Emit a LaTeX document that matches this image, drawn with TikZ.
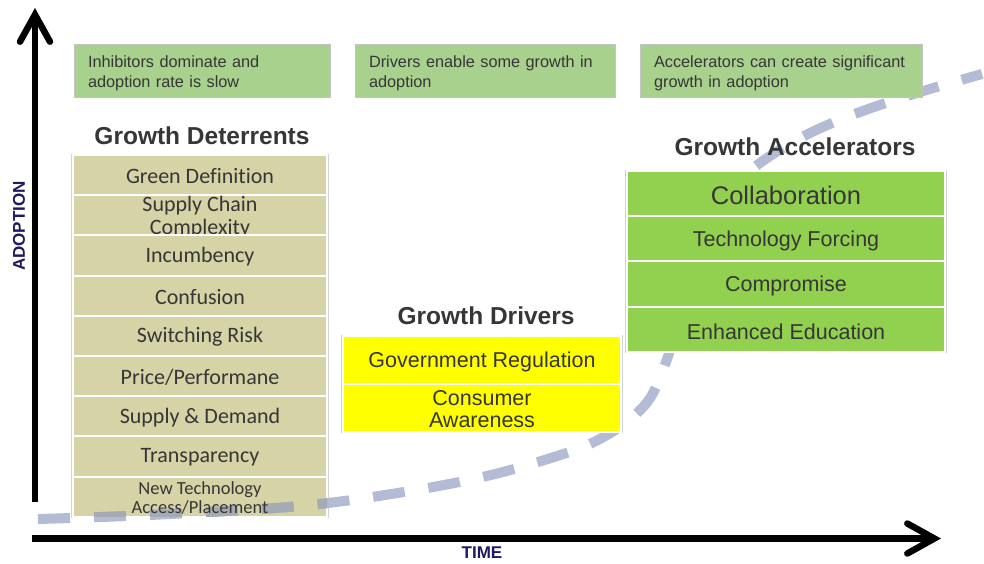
\documentclass[tikz,border=0pt]{standalone}
\usepackage{fontspec}
\setmainfont{Liberation Sans}
\newfontfamily\calfont[Ligatures=NoCommon]{Carlito}
\usetikzlibrary{arrows.meta}

\definecolor{khaki}{HTML}{D6D3A7}
\definecolor{leafgreen}{HTML}{92D050}
\definecolor{palegreen}{HTML}{A9D18E}
\definecolor{yellowcell}{HTML}{FFFF00}
\definecolor{trendblue}{HTML}{B3BCD4}
\definecolor{trendmix}{HTML}{A5ABB2}
\definecolor{inkgrey}{HTML}{363636}
\definecolor{framegrey}{HTML}{D2D2D2}
\definecolor{boxedge}{HTML}{C4C4C4}
\definecolor{axisnavy}{HTML}{1F1A5E}

\tikzset{
  axis/.style={line width=6.5pt, -{Straight Barb[length=27pt,width=30pt,line cap=round,line join=miter]}},
  frame/.style={draw=framegrey, line width=1.2pt, fill=white},
  detcell/.style={draw=white, line width=2pt, fill=khaki, minimum width=254pt, minimum height=40.2pt, inner sep=0pt},
  drvcell/.style={draw=white, line width=2pt, fill=yellowcell, minimum width=278pt, minimum height=48pt, inner sep=0pt},
  acccell/.style={draw=white, line width=2pt, fill=leafgreen, minimum width=318pt, minimum height=45.25pt, inner sep=0pt},
  dettext/.style={text=inkgrey, align=center, font=\calfont\fontsize{22}{23}\selectfont},
  drvtext/.style={text=inkgrey, align=center, font=\fontsize{21.5}{22}\selectfont},
  acctext/.style={text=inkgrey, align=center, font=\fontsize{21.5}{24}\selectfont},
  title/.style={text=inkgrey, font=\bfseries\fontsize{24.5}{27}\selectfont},
  notebox/.style={draw=boxedge, line width=0.8pt, fill=palegreen, minimum height=53pt, inner sep=0pt},
  notetext/.style={inner sep=0pt, align=left, text=inkgrey, font=\fontsize{16.3}{20}\selectfont},
  axislabel/.style={text=axisnavy, font=\bfseries\fontsize{17}{18}\selectfont},
  trend/.style={line width=10pt, dash pattern=on 32pt off 24pt},
}

\begin{document}
\begin{tikzpicture}[x=1pt,y=-1pt]
\useasboundingbox (0,0) rectangle (984,563);

% ---- Growth deterrents table ----
\node[title] (dettitle) at (202,136) {Growth Deterrents};
\draw[frame] (72,155) rectangle (328,517);
\node[detcell] (d1) at (200,175.1) {};
\node[dettext] (t1) at (200,176) {Green Definition};
\node[detcell] (d2) at (200,215.3) {};
\node[dettext] (t2) at (200,217) {Supply Chain\\Complexity};
\node[detcell] (d3) at (200,255.5) {};
\node[dettext] (t3) at (200,256.4) {Incumbency};
\node[detcell] (d4) at (200,295.7) {};
\node[dettext] (t4) at (200,296.6) {Confusion};
\node[detcell] (d5) at (200,335.9) {};
\node[dettext] (t5) at (200,336.8) {Switching Risk};
\node[detcell] (d6) at (200,376.1) {};
\node[dettext] (t6) at (200,377) {Price/Performane};
\node[detcell] (d7) at (200,416.3) {};
\node[dettext] (t7) at (200,417.2) {Supply \& Demand};
\node[detcell] (d8) at (200,456.5) {};
\node[dettext] (t8) at (200,457.4) {Transparency};
\node[detcell] (d9) at (200,496.7) {};

% ---- Adoption trend curve ----
\def\trendpath{plot[smooth, tension=0.55] coordinates {(38,519) (150,515) (300,506) (410,491) (495,474) (575,450) (612,432) (636,414) (652,395) (666,362) (676,330) (692,275) (712,218) (737,183) (767,158) (810,133) (860,112) (920,92) (982,74)}}
\draw[trend, draw=trendblue] \trendpath;
\begin{scope}
  \clip (73,156) rectangle (327,516.4);
  \draw[trend, draw=trendmix] \trendpath;
\end{scope}
\node[dettext, font=\calfont\fontsize{18.5}{19}\selectfont] (t9) at (200,497.5) {New Technology\\Access/Placement};

% ---- Growth drivers table ----
\node[title] (drvtitle) at (486,316) {Growth Drivers};
\draw[frame] (342,336) rectangle (622,432);
\node[drvcell] (r1) at (482,360) {};
\node[drvtext] (s1) at (482,362) {Government Regulation};
\node[drvcell] (r2) at (482,408) {};
\node[drvtext] (s2) at (482,409) {Consumer\\Awareness};

% ---- Growth accelerators table ----
\node[title] (acctitle) at (795,147) {Growth Accelerators};
\draw[frame] (626,171) rectangle (946,352);
\node[acccell] (a1) at (786,193.6) {};
\node[acctext, font=\fontsize{25.5}{28}\selectfont] (u1) at (786,195) {Collaboration};
\node[acccell] (a2) at (786,238.9) {};
\node[acctext] (u2) at (786,241) {Technology Forcing};
\node[acccell] (a3) at (786,284.1) {};
\node[acctext] (u3) at (786,286.2) {Compromise};
\node[acccell] (a4) at (786,329.4) {};
\node[acctext] (u4) at (786,331.5) {Enhanced Education};

% ---- Phase notes ----
\node[notebox, minimum width=256pt] (n1) at (202,70.5) {};
\node[notetext, text width=228pt] (m1) at (202,73) {Inhibitors dominate and\\adoption rate is slow};
\node[notebox, minimum width=260pt] (n2) at (485,70.5) {};
\node[notetext, text width=232pt] (m2) at (485,73) {Drivers enable some growth in\\adoption};
\node[notebox, minimum width=282pt] (n3) at (781,71) {};
\node[notetext, text width=254pt] (m3) at (781,73.5) {Accelerators can create significant\\growth in adoption};

% ---- Axes ----
\coordinate (ybase) at (35,502);
\coordinate (ytip) at (35,8);
\coordinate (xbase) at (32,538.5);
\coordinate (xtip) at (941,538.5);
\draw[axis] (ybase) -- (ytip);
\draw[axis] (xbase) -- (xtip);
\node[axislabel, rotate=90] (ylabel) at (19,226) {ADOPTION};
\node[axislabel] (xlabel) at (482,552.5) {TIME};
\end{tikzpicture}
\end{document}
